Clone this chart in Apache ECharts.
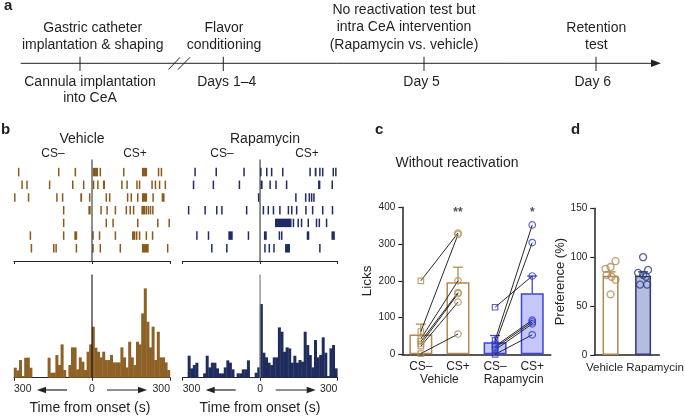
<!DOCTYPE html>
<html><head><meta charset="utf-8">
<script src="https://cdn.jsdelivr.net/npm/echarts@6/dist/echarts.min.js"></script>
<style>html,body{margin:0;padding:0;background:#fff}#c{width:685px;height:417px}</style>
</head><body><div id="c"></div>
<script>
// ---------------- DATA ----------------
// Raster: lick events per trial, seconds from onset ([t] single lick, [t0,t1] burst)
const vehicleLicks = [
  [[-282],[-128],[-67,-61],[3,23],[32],[122],[192,212],[256],[267]],
  [[-269],[-250],[-163],[-74],[-32],[6],[20,25],[42,50],[115],[135],[173],[183],[231],[244],[260],[282]],
  [[-297],[-244],[-135],[-113],[-45,-38],[-9],[55],[68],[137],[151],[176],[192,212],[235],[268,279]],
  [[-109],[-14,-5],[35],[58],[90],[132],[147],[160],[190,205],[209],[217],[225],[234]],
  [[-109],[55],[81],[176],[253],[297]],
  [[-237],[-109],[-68,-57],[4],[29],[90],[154,167],[172],[180,186],[209],[233]],
  [[-233],[-147],[-138],[-60],[4],[32],[106,112],[192,218],[291]]
];
const rapamycinLicks = [
  [[-252],[-170],[-62],[3],[26],[45],[88],[194],[212,219],[232],[243],[284],[294]],
  [[-258],[-181],[-80],[2,10],[39],[62],[103],[225,234],[280]],
  [[-8,-3],[139],[177],[191],[200],[209]],
  [[-277],[-213],[-168],[-148],[-52],[13],[32],[52],[77],[110],[123],[142],[178],[204],[243],[281]],
  [[58,122],[127,132],[148],[161],[187],[219],[230],[258]],
  [[-245],[-200],[-123,-106],[-45],[15,26],[75],[84],[181,191],[277,290]],
  [[-187],[-129],[19],[36],[54],[97,116],[232]]
];
// Histograms: licks per 10 s bin from -300 s to +300 s
const histStart = -300;
const binWidth = 10;
const vehicleHist = [3.0,2.2,5.3,0.5,6.0,6.0,3.0,0,0,0,0,0,0,6.0,1.5,1.5,6.8,3.8,10,2.3,0,3.8,9.1,9.1,2.5,6.1,4.8,2.3,7.8,10,
  15.3,9.0,7.8,6.1,7.8,5.3,5.3,6.8,4.6,4.6,4.6,9.1,6.1,3.1,10.8,6.1,3.8,10.8,10,19.3,26.8,16.8,9.1,15.3,5.3,13.8,6.1,6.1,4.6,2.3];
const rapamycinHist = [0,0,6.6,2.8,3.8,4.5,0,0,1.3,6.6,3.1,4.5,4.5,2.8,1.3,1.3,3.1,5.2,4.5,2.5,0,1.3,1.3,2.5,2.5,5.2,0,0,1.5,3.1,
  22.1,7.5,6.1,4.5,3.8,6.1,6.1,15.1,13.8,7.8,9.1,8.8,4.5,6.6,4.5,5.3,4.8,13.8,9.8,6.8,3.1,11.3,6.1,6.8,12.1,7.5,0.5,8.8,9.8,2.8];
const timeTicks = [-300, 0, 300];

// Panel c
const cCategories = ['CS–', 'CS+', 'CS–', 'CS+'];
const cGroups = ['Vehicle', 'Rapamycin'];
const cMeans = [54, 196, 33, 166];
const cSEM = [28, 41, 18, 47];
const vehicleCSminus = [200, 62, 42, 35, 28, 22, 2];
const vehicleCSplus  = [330, 326, 200, 168, 165, 142, 55];
const rapamycinCSminus = [128, 38, 28, 22, 18, 12, 0];
const rapamycinCSplus  = [213, 352, 304, 93, 88, 83, 53];
const cSignificance = ['', '**', '', '*'];
const cSigLevel = 385;
const cTicks = [0, 100, 200, 300, 400];

// Panel d
const dCategories = ['Vehicle', 'Rapamycin'];
const dMeans = [81, 81];
const dSEM = [4, 4];
const dVehicle = [96, 90, 88, 82, 80, 77, 62];
const dRapamycin = [100, 87, 84, 82, 80, 72, 72];
const dTicks = [0, 50, 100, 150];

// ---------------- STYLE ----------------
const FONT = 'Liberation Sans, Arial, Helvetica, sans-serif';
const TXT = '#231f20';
const vehRaster = '#8a5a1c', vehHist = '#8e6126';
const rapRaster = '#1f2b63', rapHist = '#1f2c5e';
const cVeh = '#b38b52', cRapStroke = '#3d45d6', cRapFill = '#c5c7fb', cRapDot = '#2d38c8';
const dVeh = '#b08850', dRapStroke = '#2d3d78', dRapFill = '#b6bbe0';
const dotJitterVeh = [5, 0, -5, -4, 1, 5, 0];
const dotJitterRap = [0, 5, -5, 0, 3, -3, 4];

function rasterData(rows) {
  const out = [];
  rows.forEach((row, r) => row.forEach(e => out.push([r + 1, e[0], e.length > 1 ? e[1] : e[0]])));
  return out;
}
function rasterItem(color) {
  return function (params, api) {
    const trial = api.value(0), t0 = api.value(1), t1 = api.value(2);
    const p0 = api.coord([t0, trial]), p1 = api.coord([t1, trial]);
    let w = p1[0] - p0[0], x = p0[0];
    if (w < 1.5) { x = (p0[0] + p1[0]) / 2 - 0.75; w = 1.5; }
    const h = 8.5;
    return { type: 'rect', shape: { x: x, y: p0[1] - h / 2, width: w, height: h }, style: { fill: color } };
  };
}
function histItem(color) {
  return function (params, api) {
    const t0 = api.value(0), v = api.value(1);
    const a = api.coord([t0, v]), b = api.coord([t0 + binWidth, 0]);
    return { type: 'rect', shape: { x: a[0] - 0.2, y: a[1], width: b[0] - a[0] + 0.4, height: b[1] - a[1] }, style: { fill: color } };
  };
}
function errItem(colors) {
  return function (params, api) {
    const x = api.value(0), m = api.value(1), s = api.value(2);
    const top = api.coord([x, m + s]), base = api.coord([x, m]);
    const col = colors[params.dataIndex];
    const hw = 5;
    return { type: 'group', children: [
      { type: 'line', shape: { x1: base[0], y1: base[1], x2: top[0], y2: top[1] }, style: { stroke: col, lineWidth: 1.3 } },
      { type: 'line', shape: { x1: top[0] - hw, y1: top[1], x2: top[0] + hw, y2: top[1] }, style: { stroke: col, lineWidth: 1.3 } }
    ]};
  };
}
function pairItem(params, api) {
  const a = api.coord([api.value(0), api.value(1)]);
  const b = api.coord([api.value(2), api.value(3)]);
  return { type: 'line', shape: { x1: a[0], y1: a[1], x2: b[0], y2: b[1] }, style: { stroke: '#111', lineWidth: 0.9 } };
}

const hiddenY = (min, max, inverse) => ({ type: 'value', min, max, inverse: !!inverse, show: false });
const rasterX = gi => ({ type: 'value', gridIndex: gi, min: -300, max: 300, interval: 300, position: 'bottom',
  axisLine: { show: true, onZero: false, lineStyle: { color: '#222', width: 1 } },
  axisTick: { show: true, length: 3, lineStyle: { color: '#222' } },
  axisLabel: { show: false }, splitLine: { show: false } });
const histX = gi => ({ type: 'value', gridIndex: gi, min: -300, max: 300, interval: 300,
  axisLine: { show: true, onZero: false, lineStyle: { color: '#222', width: 1 } },
  axisTick: { show: true, length: 3, lineStyle: { color: '#222' } },
  axisLabel: { show: true, margin: 6, fontFamily: FONT, fontSize: 10.5, color: TXT,
    formatter: v => (timeTicks.indexOf(v) >= 0 ? String(Math.abs(v)) : ''),
    alignMinLabel: 'left', alignMaxLabel: 'right' },
  splitLine: { show: false } });

const rasterVeh = rasterData(vehicleLicks);
const rasterRap = rasterData(rapamycinLicks);
const nTrials = vehicleLicks.length;

const pairsVeh = vehicleCSminus.map((v, i) => [0, v, 1, vehicleCSplus[i]]);
const pairsRap = rapamycinCSminus.map((v, i) => [2, v, 3, rapamycinCSplus[i]]);
const cColors = [cVeh, cVeh, cRapStroke, cRapStroke];
const barStyleVeh = { color: '#ffffff', borderColor: cVeh, borderWidth: 1.5 };
const barStyleRap = { color: cRapFill, borderColor: cRapStroke, borderWidth: 1.5 };

const hollow = (c, w) => ({ color: 'rgba(255,255,255,0)', borderColor: c, borderWidth: w || 1.2 });

const graphic = [];
function T(text, x, y, size, opts) {
  graphic.push({ type: 'text', silent: true, style: Object.assign({ text, x, y,
    font: (opts && opts.bold ? 'bold ' : '') + size + 'px ' + FONT, fill: TXT,
    textAlign: 'center', textVerticalAlign: 'middle' }, (opts && opts.style) || {}) });
}
function L(x1, y1, x2, y2, w) {
  graphic.push({ type: 'line', silent: true, shape: { x1, y1, x2, y2 }, style: { stroke: '#222', lineWidth: w || 1 } });
}
function P(points) {
  graphic.push({ type: 'polygon', silent: true, shape: { points }, style: { fill: '#222' } });
}
// panel labels
T('a', 4, 6, 15, { bold: true, style: { textAlign: 'left' } });
T('b', 1, 130, 15, { bold: true, style: { textAlign: 'left' } });
T('c', 375, 130, 15, { bold: true, style: { textAlign: 'left' } });
T('d', 571, 130, 15, { bold: true, style: { textAlign: 'left' } });
// timeline (panel a)
L(20.7, 63.3, 653, 63.3);
P([[651, 59.6], [661, 63.3], [651, 67]]);
[80, 223.3, 424, 596].forEach(x => L(x, 56.7, x, 71));
L(168.5, 69.5, 180, 57.3); L(178, 69.5, 190, 57.3);
T('Gastric catheter', 92.7, 28.3, 14); T('implantation & shaping', 92.7, 45, 14);
T('Cannula implantation', 90, 81.7, 14); T('into CeA', 90, 98.5, 14);
T('Flavor', 224, 28.3, 14); T('conditioning', 224, 45, 14); T('Days 1–4', 226.7, 81.7, 14);
T('No reactivation test but', 404, 10, 14); T('intra CeA intervention', 404, 27.5, 14);
T('(Rapamycin vs. vehicle)', 404, 45, 14); T('Day 5', 421.6, 81.7, 14);
T('Retention', 596.3, 28.3, 14); T('test', 596.3, 45, 14); T('Day 6', 592.8, 81.7, 14);
// panel b titles
T('Vehicle', 82, 139, 14); T('CS–', 53, 154, 12); T('CS+', 135, 154, 12);
T('Rapamycin', 265, 139, 14); T('CS–', 222, 154, 12); T('CS+', 307, 154, 12);
T('Time from onset (s)', 90, 408, 14); T('Time from onset (s)', 260, 408, 14);
// direction arrows under histograms
[0, 168.7].forEach(dx => {
  L(43 + dx, 390, 67 + dx, 390, 1.2); P([[37 + dx, 390], [46 + dx, 386.8], [46 + dx, 393.2]]);
  L(107 + dx, 390, 141 + dx, 390, 1.2); P([[147 + dx, 390], [138 + dx, 386.8], [138 + dx, 393.2]]);
});
T('Without reactivation', 457, 163, 14);

const option = {
  animation: false,
  backgroundColor: '#ffffff',
  textStyle: { fontFamily: FONT },
  grid: [
    { left: 14, top: 159.4, width: 156, height: 101.6 },
    { left: 14, top: 274.4, width: 156, height: 103.3 },
    { left: 182.7, top: 159.4, width: 154.7, height: 101.6 },
    { left: 182.7, top: 274.4, width: 154.7, height: 103.3 },
    { left: 402.3, top: 207.3, width: 148.5, height: 147 },
    { left: 594.3, top: 208.3, width: 72.4, height: 146.7 }
  ],
  xAxis: [
    rasterX(0), histX(1), rasterX(2), histX(3),
    { type: 'category', gridIndex: 4, data: cCategories,
      axisLine: { lineStyle: { color: '#222', width: 1.5 } }, axisTick: { show: false },
      axisLabel: { interval: 0, margin: 6, fontFamily: FONT, fontSize: 12, color: TXT } },
    { type: 'category', gridIndex: 4, data: cGroups, position: 'bottom', offset: 13,
      axisLine: { show: false }, axisTick: { show: false },
      axisLabel: { interval: 0, margin: 6, fontFamily: FONT, fontSize: 12, color: TXT } },
    { type: 'category', gridIndex: 5, data: dCategories,
      axisLine: { lineStyle: { color: '#222', width: 1.5 } }, axisTick: { show: false },
      axisLabel: { interval: 0, hideOverlap: false, margin: 7, fontFamily: FONT, fontSize: 11.5, color: TXT,
        formatter: (v, i) => (i === 0 ? '{l|' + v + '}' : '{r|' + v + '}'),
        rich: { l: { padding: [0, 12, 0, 0], fontSize: 11.5, fontFamily: FONT, color: TXT },
                r: { padding: [0, 0, 0, 24], fontSize: 11.5, fontFamily: FONT, color: TXT } } } }
  ],
  yAxis: [
    Object.assign(hiddenY(0, nTrials + 1, true), { gridIndex: 0 }),
    Object.assign(hiddenY(0, 31), { gridIndex: 1 }),
    Object.assign(hiddenY(0, nTrials + 1, true), { gridIndex: 2 }),
    Object.assign(hiddenY(0, 31), { gridIndex: 3 }),
    { type: 'value', gridIndex: 4, min: 0, max: 400, interval: 100,
      name: 'Licks', nameLocation: 'middle', nameGap: 27, nameTextStyle: { fontFamily: FONT, fontSize: 13.5, color: TXT },
      axisLine: { show: true, lineStyle: { color: '#222', width: 1.5 } },
      axisTick: { show: true, length: 4, lineStyle: { color: '#222', width: 1.2 } },
      axisLabel: { margin: 7, fontFamily: FONT, fontSize: 10, color: TXT }, splitLine: { show: false } },
    { type: 'value', gridIndex: 5, min: 0, max: 150, interval: 50,
      name: 'Preference (%)', nameLocation: 'middle', nameGap: 26, nameTextStyle: { fontFamily: FONT, fontSize: 13, color: TXT },
      axisLine: { show: true, lineStyle: { color: '#222', width: 1.5 } },
      axisTick: { show: true, length: 4, lineStyle: { color: '#222', width: 1.2 } },
      axisLabel: { margin: 7, fontFamily: FONT, fontSize: 10, color: TXT }, splitLine: { show: false } }
  ],
  graphic: graphic,
  series: [
    // panel b rasters
    { type: 'custom', xAxisIndex: 0, yAxisIndex: 0, data: rasterVeh, encode: { x: [1, 2], y: 0 }, renderItem: rasterItem(vehRaster), z: 2 },
    { type: 'custom', xAxisIndex: 2, yAxisIndex: 2, data: rasterRap, encode: { x: [1, 2], y: 0 }, renderItem: rasterItem(rapRaster), z: 2 },
    // histograms
    { type: 'custom', xAxisIndex: 1, yAxisIndex: 1, data: vehicleHist.map((v, i) => [histStart + i * binWidth, v]), encode: { x: 0, y: 1 }, renderItem: histItem(vehHist), z: 2 },
    { type: 'custom', xAxisIndex: 3, yAxisIndex: 3, data: rapamycinHist.map((v, i) => [histStart + i * binWidth, v]), encode: { x: 0, y: 1 }, renderItem: histItem(rapHist), z: 2 },
    // onset lines
    { type: 'line', xAxisIndex: 0, yAxisIndex: 0, data: [[0, 0], [0, nTrials + 1]], symbol: 'none', lineStyle: { color: '#333', width: 1.1 }, z: 3 },
    { type: 'line', xAxisIndex: 1, yAxisIndex: 1, data: [[0, 0], [0, 31]], symbol: 'none', lineStyle: { color: '#111', width: 1.1 }, z: 3 },
    { type: 'line', xAxisIndex: 2, yAxisIndex: 2, data: [[0, 0], [0, nTrials + 1]], symbol: 'none', lineStyle: { color: '#333', width: 1.1 }, z: 3 },
    { type: 'line', xAxisIndex: 3, yAxisIndex: 3, data: [[0, 0], [0, 31]], symbol: 'none', lineStyle: { color: '#808080', width: 1.2 }, z: 3 },
    // panel c
    { type: 'bar', xAxisIndex: 4, yAxisIndex: 4, barWidth: 23, z: 2,
      data: cMeans.map((m, i) => ({ value: m, itemStyle: i < 2 ? barStyleVeh : barStyleRap })) },
    { type: 'custom', xAxisIndex: 4, yAxisIndex: 4, z: 3, data: cMeans.map((m, i) => [i, m, cSEM[i]]), encode: { x: 0, y: [1, 2] }, renderItem: errItem(cColors) },
    { type: 'custom', xAxisIndex: 4, yAxisIndex: 4, z: 4, data: pairsVeh.concat(pairsRap), encode: { x: [0, 2], y: [1, 3] }, renderItem: pairItem },
    { type: 'scatter', xAxisIndex: 4, yAxisIndex: 4, z: 5, symbol: 'rect', symbolSize: 5.5, itemStyle: hollow(cVeh), data: vehicleCSminus.map(v => [0, v]) },
    { type: 'scatter', xAxisIndex: 4, yAxisIndex: 4, z: 5, symbol: 'circle', symbolSize: 6.5, itemStyle: hollow(cVeh), data: vehicleCSplus.map(v => [1, v]) },
    { type: 'scatter', xAxisIndex: 4, yAxisIndex: 4, z: 5, symbol: 'rect', symbolSize: 5.5, itemStyle: hollow(cRapDot), data: rapamycinCSminus.map(v => [2, v]) },
    { type: 'scatter', xAxisIndex: 4, yAxisIndex: 4, z: 5, symbol: 'circle', symbolSize: 6.5, itemStyle: hollow(cRapDot), data: rapamycinCSplus.map(v => [3, v]) },
    { type: 'scatter', xAxisIndex: 4, yAxisIndex: 4, z: 6, symbolSize: 0, silent: true,
      data: cSignificance.map((s, i) => [i, cSigLevel, s]).filter(d => d[2]),
      label: { show: true, position: 'inside', formatter: p => p.data[2], fontFamily: FONT, fontSize: 12, fontWeight: 'bold', color: TXT } },
    // panel d
    { type: 'bar', xAxisIndex: 6, yAxisIndex: 5, barWidth: 16, z: 2,
      data: dMeans.map((m, i) => ({ value: m, itemStyle: i === 0 ? { color: '#fff', borderColor: dVeh, borderWidth: 1.5 } : { color: dRapFill, borderColor: dRapStroke, borderWidth: 1.5 } })) },
    { type: 'custom', xAxisIndex: 6, yAxisIndex: 5, z: 3, data: dMeans.map((m, i) => [i, m, dSEM[i]]), encode: { x: 0, y: [1, 2] }, renderItem: errItem([dVeh, dRapStroke]) },
    { type: 'scatter', xAxisIndex: 6, yAxisIndex: 5, z: 5, symbol: 'circle', symbolSize: 7, itemStyle: hollow(dVeh, 1.3),
      data: dVehicle.map((v, i) => ({ value: [0, v], symbolOffset: [dotJitterVeh[i], 0] })) },
    { type: 'scatter', xAxisIndex: 6, yAxisIndex: 5, z: 5, symbol: 'circle', symbolSize: 7, itemStyle: hollow(dRapStroke, 1.3),
      data: dRapamycin.map((v, i) => ({ value: [1, v], symbolOffset: [dotJitterRap[i], 0] })) }
  ]
};
const chart = echarts.init(document.getElementById('c'));
chart.setOption(option);
</script></body></html>
